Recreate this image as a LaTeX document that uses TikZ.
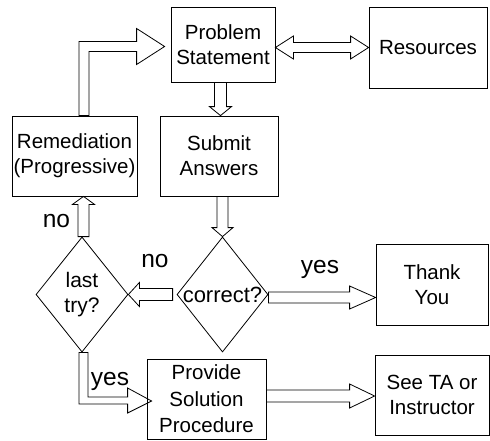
\documentclass[tikz,border=0pt]{standalone}
\usepackage{fontspec}
\setmainfont{Liberation Sans}
\usetikzlibrary{shapes.geometric,calc}
\tikzset{
  box/.style={draw, line width=0.8pt, inner sep=0pt, align=center, font=\fontsize{20.5}{25}\selectfont},
  dmd/.style={draw, diamond, line width=0.8pt, inner sep=0pt, minimum width=92pt, minimum height=115pt},
  dtext/.style={align=center, inner sep=0pt},
  blk/.style={draw, line width=0.8pt, line join=miter},
  lbl/.style={inner sep=0pt, anchor=base, font=\fontsize{24.5}{28}\selectfont}
}
\begin{document}
\begin{tikzpicture}[x=1pt, y=-1pt]
\useasboundingbox (0,0) rectangle (490,440);
% boxes
\node[box, minimum width=104pt, minimum height=75pt] (ps) at (223,44.5) {Problem\\Statement};
\node[box, minimum width=118pt, minimum height=81pt] (res) at (428,47.5) {Resources};
\node[box, minimum width=118pt, minimum height=80pt] (sub) at (219,156) {Submit\\Answers};
\node[box, minimum width=125pt, minimum height=80pt] (rem) at (74.5,156) {Remediation\\(Progressive)};
\node[box, minimum width=112pt, minimum height=81pt] (thank) at (432,284.5) {Thank\\You};
\node[box, minimum width=114pt, minimum height=80pt] (seeta) at (432,395) {See TA or\\Instructor};
\node[box, minimum width=119pt, minimum height=80pt, font=\fontsize{20.5}{26.5}\selectfont] (prov) at (206.5,399) {Provide\\Solution\\Procedure};
% diamonds
\node[dmd, label={[dtext, font=\fontsize{21}{25}\selectfont]center:{last\\try?}}] (last) at (82,294.5) {};
\node[dmd, minimum width=91pt, label={[dtext, font=\fontsize{22}{26}\selectfont]center:{correct?}}] (corr) at (222.5,294.5) {};
% labels
\node[lbl] (lno1) at (56.5,227) {no};
\node[lbl] (lno2) at (155,267) {no};
\node[lbl] (lyes1) at (320,273.5) {yes};
\node[lbl] (lyes2) at (110,385.5) {yes};
% Problem Statement <-> Resources
\draw[blk] let \p1=(ps.east), \p2=(res.west) in
  (\x1,\y2) -- (\x1+18pt,\y2+11.5pt) -- (\x1+18pt,\y2+5pt) -- (\x2-18pt,\y2+5pt)
  -- (\x2-18pt,\y2+11.5pt) -- (\x2,\y2) -- (\x2-18pt,\y2-11.5pt) -- (\x2-18pt,\y2-5pt)
  -- (\x1+18pt,\y2-5pt) -- (\x1+18pt,\y2-11.5pt) -- cycle;
% Problem Statement -> Submit
\draw[blk] let \p1=(ps.south), \p2=(sub.north) in
  (\x2-4.5pt,\y1) -- (\x2+7.5pt,\y1) -- (\x2+7.5pt,\y2+9pt) -- (\x2+12.5pt,\y2+9pt)
  -- (\x2+1.5pt,\y2) -- (\x2-9.5pt,\y2+9pt) -- (\x2-4.5pt,\y2+9pt) -- cycle;
% Submit -> correct?
\draw[blk] let \p1=(sub.south), \p2=(corr.north) in
  (\x2-5.5pt,\y1) -- (\x2+5.5pt,\y1) -- (\x2+5.5pt,\y2+9pt) -- (\x2+10.5pt,\y2+9pt)
  -- (\x2,\y2) -- (\x2-10.5pt,\y2+9pt) -- (\x2-5.5pt,\y2+9pt) -- cycle;
% last try? -> Remediation
\draw[blk] let \p1=(last.north), \p2=(rem.south) in
  (\x1-4pt,\y1) -- (\x1+7pt,\y1) -- (\x1+7pt,\y2-8pt) -- (\x1+12.5pt,\y2-8pt)
  -- (\x1+1.5pt,\y2) -- (\x1-9.5pt,\y2-8pt) -- (\x1-4pt,\y2-8pt) -- cycle;
% correct? -> last try?
\draw[blk] let \p1=(corr.west), \p2=(last.east) in
  (\x1-4pt,\y2+6pt) -- (\x2+11pt,\y2+6pt) -- (\x2+11pt,\y2+12pt) -- (\x2,\y2)
  -- (\x2+11pt,\y2-12pt) -- (\x2+11pt,\y2-6pt) -- (\x1-4pt,\y2-6pt) -- cycle;
% correct? -> Thank You
\draw[blk] let \p1=(corr.east), \p2=(thank.west) in
  (\x1,\y1+2.5pt) -- (\x2-26pt,\y1+2.5pt) -- (\x2-26pt,\y1+8.5pt) -- (\x2,\y1-3pt)
  -- (\x2-26pt,\y1-14.5pt) -- (\x2-26pt,\y1-8.5pt) -- (\x1,\y1-8.5pt) -- cycle;
% Provide -> See TA
\draw[blk] let \p1=(prov.east), \p2=(seeta.west) in
  (\x1,\y2+5pt) -- (\x2-25pt,\y2+5pt) -- (\x2-25pt,\y2+11pt) -- (\x2,\y2-1pt)
  -- (\x2-25pt,\y2-13pt) -- (\x2-25pt,\y2-7pt) -- (\x1,\y2-7pt) -- cycle;
% Remediation -> Problem Statement (bent)
\draw[blk] let \p1=(rem.north), \p2=(ps.west) in
  (\x1+4.5pt,\y1) -- (\x1+4.5pt,\y2+3pt) -- (\x2-34pt,\y2+3pt) -- (\x2-34pt,\y2+16pt)
  -- (\x2-6pt,\y2-2pt) -- (\x2-34pt,\y2-20pt) -- (\x2-34pt,\y2-7pt)
  -- (\x1+14.5pt,\y2-7pt) -- (\x1+14.5pt,\y1) -- cycle;
% last try? -> Provide (bent)
\draw[blk] let \p1=(last.south), \p2=(prov.west) in
  (\x1-3pt,\y1) -- (\x1-3pt,\y2-5pt) -- (\x2-19pt,\y2-5pt) -- (\x2-19pt,\y2-14pt)
  -- (\x2+5pt,\y2-2pt) -- (\x2-19pt,\y2+11pt) -- (\x2-19pt,\y2+2pt)
  -- (\x1+6pt,\y2+2pt) -- (\x1+6pt,\y1) -- cycle;
\end{tikzpicture}
\end{document}
